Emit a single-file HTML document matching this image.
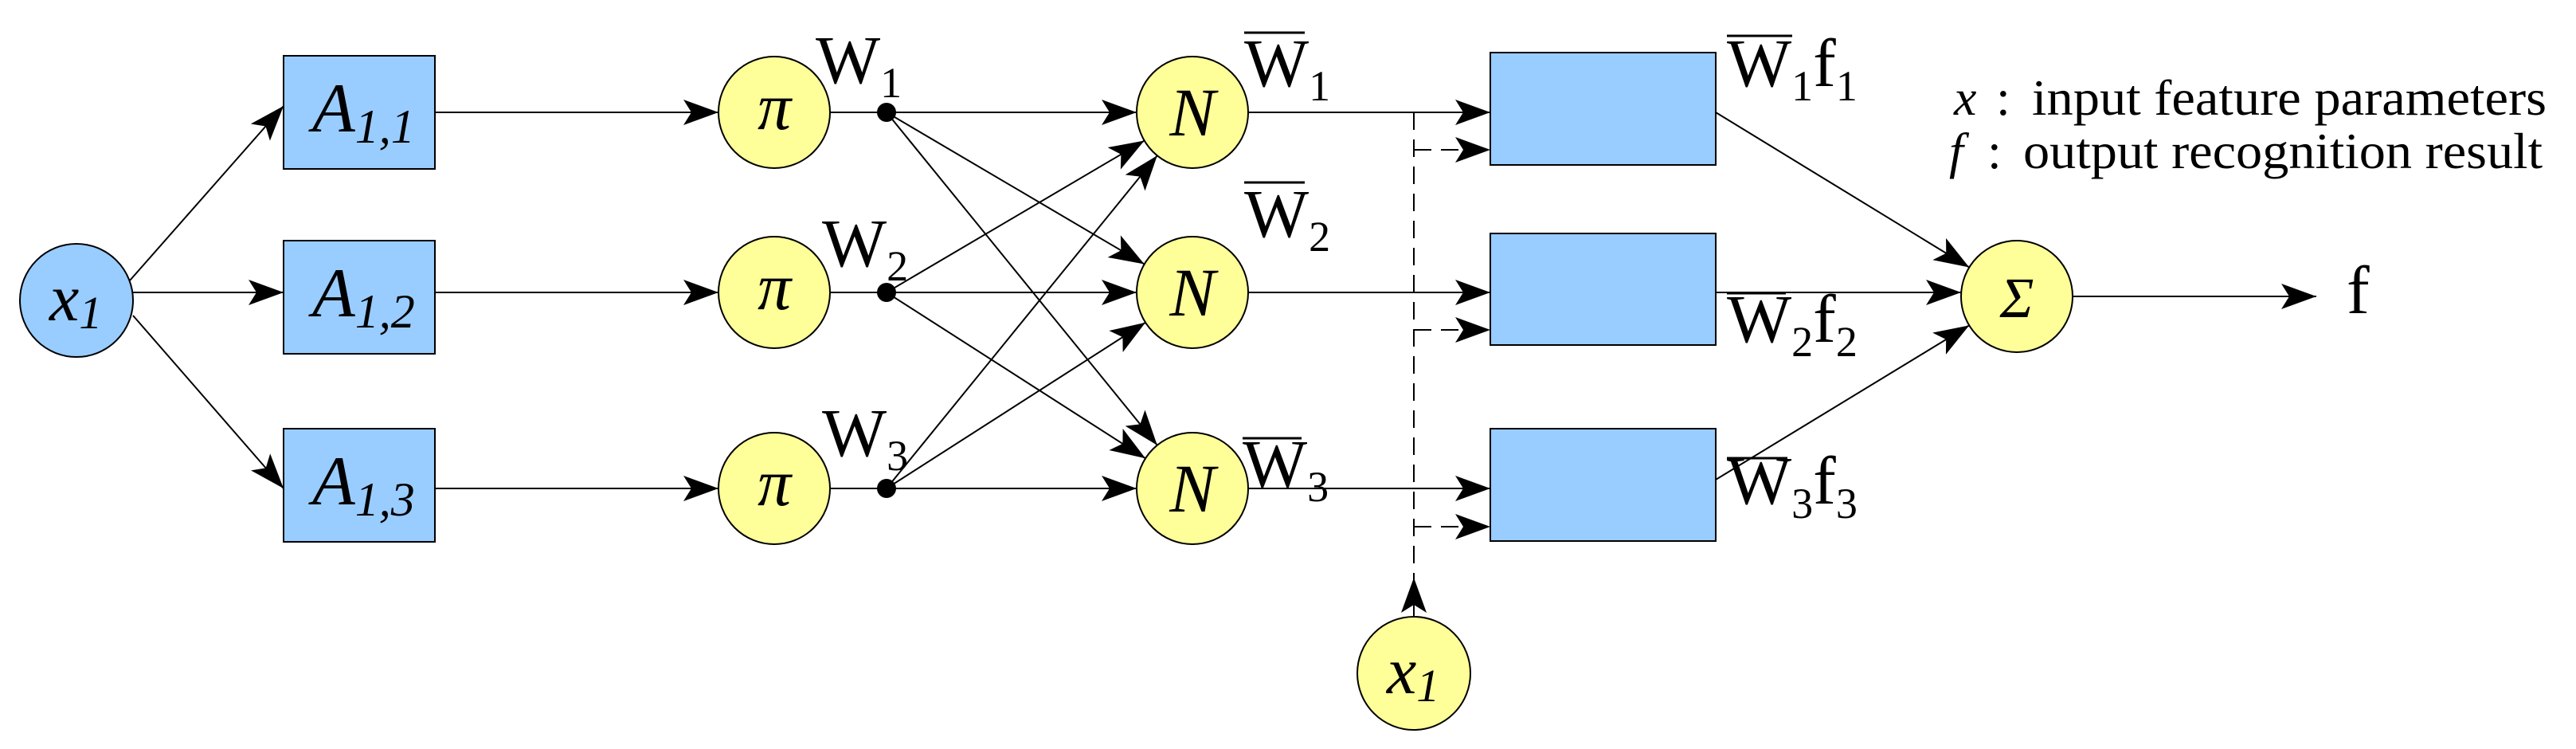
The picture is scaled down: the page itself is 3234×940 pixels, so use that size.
<!DOCTYPE html>
<html><head><meta charset="utf-8"><style>
html,body{margin:0;padding:0;background:#fff;}
svg{display:block;}
svg text{font-family:"Liberation Serif","DejaVu Serif","Times New Roman",serif !important;fill:#000;}
.it{font-style:italic;}
</style></head><body>
<svg id="s" width="3234" height="940" viewBox="0 0 3234 940" xmlns="http://www.w3.org/2000/svg">
<defs>
<marker id="ar" markerUnits="userSpaceOnUse" markerWidth="50" markerHeight="40" refX="44" refY="16" orient="auto">
<path d="M0,0 L44,16 L0,32 L10,16 Z" fill="#000"/>
</marker>
</defs>
<g id="lines" stroke="#000" stroke-width="2" fill="none"></g>
<g stroke="#000" stroke-width="2">
<ellipse cx="96" cy="377" rx="71" ry="71" fill="#99ccff"/>
<rect x="356" y="70" width="190" height="142" fill="#99ccff"/>
<rect x="356" y="302" width="190" height="142" fill="#99ccff"/>
<rect x="356" y="538" width="190" height="142" fill="#99ccff"/>
<circle cx="972" cy="141" r="70" fill="#ffff99"/>
<circle cx="972" cy="367" r="70" fill="#ffff99"/>
<circle cx="972" cy="613" r="70" fill="#ffff99"/>
<circle cx="1497" cy="141" r="70" fill="#ffff99"/>
<circle cx="1497" cy="367" r="70" fill="#ffff99"/>
<circle cx="1497" cy="613" r="70" fill="#ffff99"/>
<rect x="1871" y="66" width="283" height="141" fill="#99ccff"/>
<rect x="1871" y="293" width="283" height="140" fill="#99ccff"/>
<rect x="1871" y="538" width="283" height="141" fill="#99ccff"/>
<circle cx="1775" cy="845" r="71" fill="#ffff99"/>
<circle cx="2532" cy="372" r="70" fill="#ffff99"/>
</g>
<g fill="#000">
<circle cx="1113" cy="141" r="12"/><circle cx="1113" cy="367" r="12"/><circle cx="1113" cy="613" r="12"/>
</g>
<text x="62" y="402" font-size="84" class="it">x<tspan font-size="58" dy="10">1</tspan></text>
<text x="1741" y="870" font-size="84" class="it">x<tspan font-size="58" dy="10">1</tspan></text>
<text x="392" y="165" font-size="88" class="it">A<tspan font-size="60" dy="14">1,1</tspan></text>
<text x="392" y="397" font-size="88" class="it">A<tspan font-size="60" dy="14">1,2</tspan></text>
<text x="392" y="633" font-size="88" class="it">A<tspan font-size="60" dy="14">1,3</tspan></text>
<text x="972" y="162" font-size="84" class="it" text-anchor="middle">π</text>
<text x="972" y="388" font-size="84" class="it" text-anchor="middle">π</text>
<text x="972" y="634" font-size="84" class="it" text-anchor="middle">π</text>
<text x="1497" y="170" font-size="86" class="it" text-anchor="middle">N</text>
<text x="1497" y="396" font-size="86" class="it" text-anchor="middle">N</text>
<text x="1497" y="642" font-size="86" class="it" text-anchor="middle">N</text>
<text x="2532" y="398" font-size="72" class="it" text-anchor="middle">Σ</text>
<text x="1024" y="104" font-size="86">W<tspan font-size="54" dy="18">1</tspan></text>
<text x="1032" y="334" font-size="86">W<tspan font-size="54" dy="18">2</tspan></text>
<text x="1032" y="572" font-size="86">W<tspan font-size="54" dy="18">3</tspan></text>
<text x="1562" y="108" font-size="86">W<tspan font-size="54" dy="18">1</tspan></text>
<text x="1562" y="297" font-size="86">W<tspan font-size="54" dy="18">2</tspan></text>
<text x="1560" y="611" font-size="86">W<tspan font-size="54" dy="18">3</tspan></text>
<text x="2168" y="108" font-size="86">W<tspan font-size="54" dy="18">1</tspan><tspan dy="-18">f</tspan><tspan font-size="54" dy="18">1</tspan></text>
<text x="2168" y="429" font-size="86">W<tspan font-size="54" dy="18">2</tspan><tspan dy="-18">f</tspan><tspan font-size="54" dy="18">2</tspan></text>
<text x="2168" y="632" font-size="86">W<tspan font-size="54" dy="18">3</tspan><tspan dy="-18">f</tspan><tspan font-size="54" dy="18">3</tspan></text>
<text x="2946" y="393" font-size="86">f</text>
<text x="2453" y="144" font-size="64"><tspan class="it">x</tspan><tspan x="2506">:</tspan><tspan x="2551" textLength="646" lengthAdjust="spacingAndGlyphs">input feature parameters</tspan></text>
<text x="2447" y="211" font-size="64"><tspan class="it">f</tspan><tspan x="2495">:</tspan><tspan x="2540" textLength="652" lengthAdjust="spacingAndGlyphs">output recognition result</tspan></text>
<g stroke="#000" stroke-width="3">
<line x1="1562" y1="41" x2="1638" y2="41"/>
<line x1="1562" y1="229" x2="1638" y2="229"/>
<line x1="1560" y1="550" x2="1634" y2="550"/>
<line x1="2168" y1="45" x2="2250" y2="45"/>
<line x1="2168" y1="368" x2="2242" y2="368"/>
<line x1="2168" y1="575" x2="2244" y2="575"/>
</g>
</svg>
<script>
var g=document.getElementById('lines');
function L(x1,y1,x2,y2,arrow,dash){
 var e=document.createElementNS('http://www.w3.org/2000/svg','line');
 e.setAttribute('x1',x1);e.setAttribute('y1',y1);e.setAttribute('x2',x2);e.setAttribute('y2',y2);
 if(arrow)e.setAttribute('marker-end','url(#ar)');
 if(dash)e.setAttribute('stroke-dasharray','22,12');
 g.appendChild(e);
}
function C(x1,y1,cx,cy,r){var dx=cx-x1,dy=cy-y1,d=Math.sqrt(dx*dx+dy*dy);L(x1,y1,cx-dx/d*r,cy-dy/d*r,1);}
L(163,352,356,133,1);L(167,367,356,367,1);L(167,396,356,613,1);
var rows=[141,367,613];
rows.forEach(function(y,i){
 L(546,y,902,y,1);L(1042,y,1113,y,0);
 rows.forEach(function(y2,j){C(1113,y,1497,y2,70);});
 L(1567,y,1871,y,1);
});
L(1775,141,1775,765,0,1);
L(1775,773,1775,725,1);
[188,414,661].forEach(function(y){L(1775,y,1871,y,1,1);});
C(2154,141,2532,372,70);L(2154,367,2462,367,1);C(2154,602,2532,372,70);
L(2602,372,2908,372,1);
</script>
</body></html>
